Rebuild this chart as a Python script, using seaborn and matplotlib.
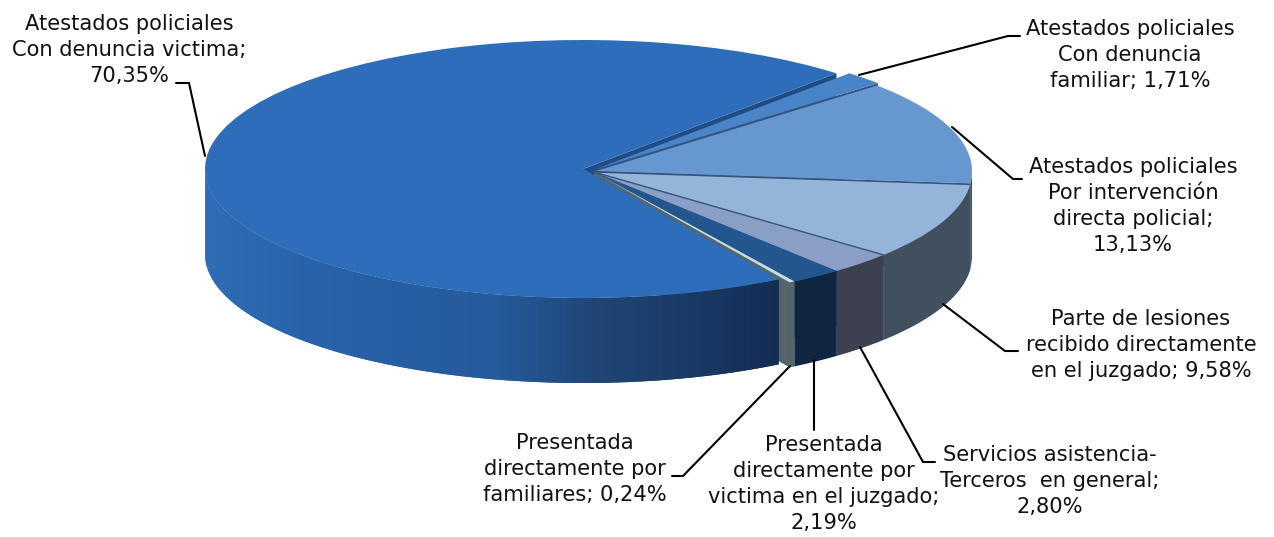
import numpy as np
import matplotlib
matplotlib.use("Agg")
import matplotlib.pyplot as plt
from matplotlib.transforms import Affine2D
import seaborn as sns

# ---- data ----
categories = [
    "Atestados policiales\nCon denuncia\nfamiliar; 1,71%",
    "Atestados policiales\nPor intervención\ndirecta policial;\n13,13%",
    "Parte de lesiones\nrecibido directamente\nen el juzgado; 9,58%",
    "Servicios asistencia-\nTerceros  en general;\n2,80%",
    "Presentada\ndirectamente por\nvictima en el juzgado;\n2,19%",
    "Presentada\ndirectamente por\nfamiliares; 0,24%",
    "Atestados policiales\nCon denuncia victima;\n70,35%",
]
values = [1.71, 13.13, 9.58, 2.80, 2.19, 0.24, 70.35]

# ---- style ----
W, H = 1274, 537
top_colors = ["#4a84c8", "#6797d1", "#94b4da", "#8a9fc5", "#23568f", "#c3dfe2", "#2e6dba"]
wall_colors = ["#3f4e60", "#3f4e60", "#40505f", "#3c4050", "#0f2540", "#56656a", None]
big_wall_anchors = ["#2f6cb5", "#2863aa", "#275ea3", "#255a9b", "#1f4676", "#1a3a67", "#132c52"]
centers_px = [(596, 169), (594, 171), (594, 172), (594, 172), (594, 172), (594, 172), (583, 169)]
RX, RY, DEPTH = 378.0, 129.0, 85.0
CX, CY = 589.0, 170.0
START = 47.9

label_pos = [(1130, 55), (1133, 206), (1141, 345), (1050, 481), (824, 484), (575, 469), (129, 50)]
leaders = [
    [(859, 75), (1008, 36), (1020, 36)],
    [(952, 127), (1013, 179), (1022, 179)],
    [(943, 304), (1005, 351), (1018, 351)],
    [(860, 347), (923, 462), (935, 462)],
    [(813.5, 360), (813.5, 430)],
    [(790, 366), (683, 476), (672, 476)],
    [(205, 156), (189, 83), (176, 83)],
]

sns.set_theme(style="white")
plt.rcParams["font.family"] = ["DejaVu Sans"]

fig = plt.figure(figsize=(W / 100, H / 100), dpi=100, facecolor="white")
ax = fig.add_axes([0, 0, 1, 1])


def dx(px):
    return (px - CX) / RX


def dy(py):
    return (CY - py) / RY


wedges, _ = ax.pie(values, colors=top_colors, startangle=START, counterclock=False, radius=1.0,
                   wedgeprops=dict(linewidth=0))
ax.set_aspect("auto")
ax.set_xlim(dx(0), dx(W))
ax.set_ylim(dy(H), dy(0))
ax.axis("off")

# slice boundaries (degrees), clockwise from START
edges = START - np.concatenate([[0], np.cumsum(values)]) / sum(values) * 360
depth = DEPTH / RY
centers = [(dx(x), dy(y)) for x, y in centers_px]

for w, c in zip(wedges, centers):
    w.set_center(c)
    w.set_zorder(3)

big_idx = len(values) - 1
thin_idx = big_idx - 1


def radial_face(c, angle, color):
    a = np.radians(angle)
    rx, ry = c[0] + np.cos(a), c[1] + np.sin(a)
    ax.fill([c[0], rx, rx, c[0]], [c[1], ry, ry - depth, c[1] - depth],
            color=color, lw=0, zorder=1)


# faces exposed in the gaps between slices
radial_face(centers[big_idx], START, "#1f4c85")
for i in (0, 1, 2, 3, 4):
    radial_face(centers[i], edges[i + 1], "#35557d")
radial_face(centers[thin_idx], edges[thin_idx + 1], "#56656a")

# outer walls: flat colour for the small slices, a left-to-right gradient on the big one
big_pal = sns.blend_palette(big_wall_anchors, 200)
for i, (c, col) in enumerate(zip(centers, wall_colors)):
    if i == big_idx:
        lo, hi = -180.0, edges[big_idx]
    else:
        lo, hi = edges[i + 1], min(edges[i], 0.0)
    if hi <= lo:
        continue
    th = np.radians(np.linspace(lo, hi, max(2, int(hi - lo) + 2)))
    if col is not None:
        xs = np.concatenate([c[0] + np.cos(th), c[0] + np.cos(th[::-1])])
        ys = np.concatenate([c[1] + np.sin(th), c[1] + np.sin(th[::-1]) - depth])
        ax.fill(xs, ys, color=col, lw=0, zorder=2)
    else:
        span = 1 + np.cos(th[-1])
        for k in range(len(th) - 1):
            # every quad runs to the end of the next one, so no seams show
            t0, t1 = th[k], th[min(k + 2, len(th) - 1)]
            xs = c[0] + np.cos([t0, t1, t1, t0])
            ys = c[1] + np.sin([t0, t1, t1, t0])
            ys[2:] -= depth
            frac = (np.cos(th[k]) + 1) / span
            ax.fill(xs, ys, color=big_pal[int(np.clip(frac, 0, 1) * 199)], lw=0, zorder=2)

# thin dark separators on the top face
for i in (0, 1, 2):
    c = centers[i + 1]
    a = np.radians(edges[i + 1])
    ax.plot([c[0], c[0] + np.cos(a)], [c[1], c[1] + np.sin(a)], color="#35557d", lw=1.0,
            zorder=4, solid_capstyle="butt")

# pixel-space transform for labels and leaders
px = Affine2D().scale(1, -1).translate(0, H)
for pts in leaders:
    xs, ys = zip(*pts)
    ax.plot(xs, ys, color="black", lw=1.5, transform=px, zorder=5, solid_joinstyle="miter",
            clip_on=False)
for txt, (x, y) in zip(categories, label_pos):
    ax.text(x, y, txt, transform=px, ha="center", va="center", fontsize=15.1, color="#111111",
            linespacing=1.37, zorder=6)

fig.savefig("out.png", dpi=100, facecolor="white")
